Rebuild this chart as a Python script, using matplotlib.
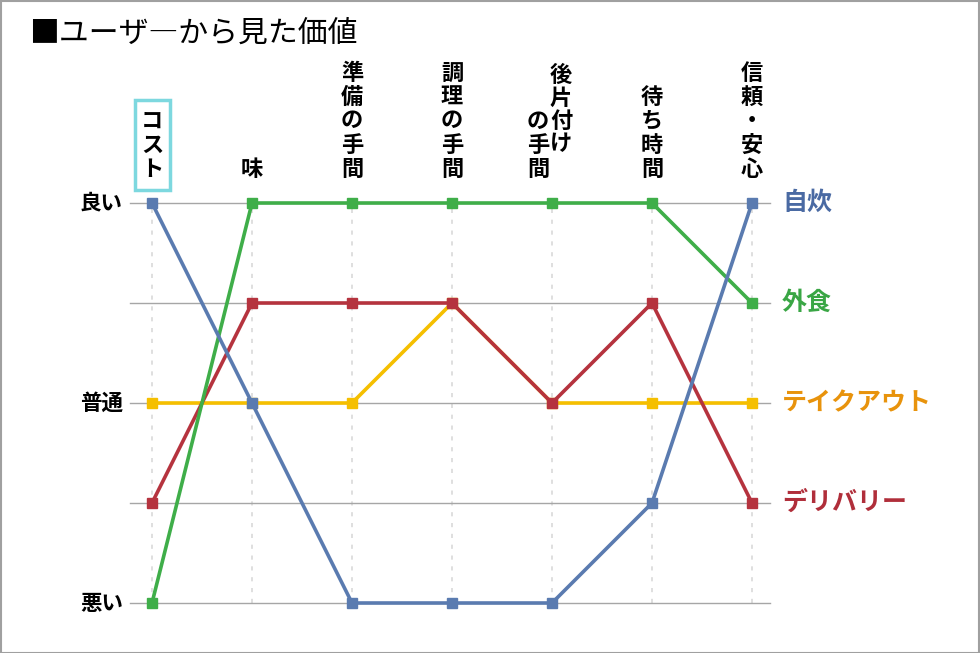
import matplotlib
matplotlib.use("Agg")
import matplotlib.pyplot as plt
from matplotlib.patches import Rectangle

plt.rcParams['font.family'] = ['Noto Sans CJK JP', 'DejaVu Sans']

title = "■ユーザ―から見た価値"
categories = ["コスト", "味", "準備の手間", "調理の手間", "後片付けの手間", "待ち時間", "信頼・安心"]
level_labels = ["悪い", "", "普通", "", "良い"]
levels = [1, 2, 3, 4, 5]

series_names = ["自炊", "外食", "テイクアウト", "デリバリー"]
jisui = [5, 3, 1, 1, 1, 2, 5]
gaishoku = [1, 5, 5, 5, 5, 5, 4]
takeout = [3, 3, 3, 4, 3, 3, 3]
delivery = [2, 4, 4, 4, 3, 4, 2]

line_colors = ["#5a7bb0", "#3fae49", "#f5bf00", "#b5333e"]
text_colors = ["#4a6aa3", "#3aa645", "#e8930c", "#b02e3a"]
zorders = [6, 5, 3, 4]

W, H = 980, 653
fig = plt.figure(figsize=(W / 100, H / 100), dpi=100)
fig.patch.set_facecolor("white")
fig.add_artist(Rectangle((0.5 / W, 0.5 / H), 1 - 1.5 / W, 1 - 1.5 / H, transform=fig.transFigure,
                         fill=False, edgecolor="#a0a0a0", linewidth=1.5))

left_px, right_px, top_px, bot_px = 130, 770, 203, 603
ax = fig.add_axes([left_px / W, 1 - bot_px / H, (right_px - left_px) / W, (bot_px - top_px) / H])
n = len(categories)
xs = list(range(n))
ax.set_xlim(-0.22, n - 1 + 0.18)
ax.set_ylim(1, 5)
for s in ax.spines.values():
    s.set_visible(False)
ax.set_xticks([])
ax.set_yticks([])

# grid
for lv in levels:
    ax.axhline(lv, color="#a6a6a6", linewidth=1.0, zorder=1, clip_on=False)
for x in xs:
    ax.plot([x, x], [1, 5], color="#d9d9d9", linewidth=1.2, linestyle=(0, (2.5, 4)), zorder=0.5, clip_on=False)

data = [jisui, gaishoku, takeout, delivery]
for vals, c, z in zip(data, line_colors, zorders):
    ax.plot(xs, vals, color=c, linewidth=2.6, marker="s", markersize=7, zorder=z, clip_on=False)

# y-level labels
for lv, lab in zip(levels, level_labels):
    if lab:
        ax.annotate(lab, xy=(0, lv), xycoords=("axes fraction", "data"), xytext=(-7, 0),
                    textcoords="offset pixels", ha="right", va="center", fontsize=15.5,
                    fontweight="bold", color="black")

# series labels at right
for name, vals, c in zip(series_names, data, text_colors):
    ax.annotate(name, xy=(1, vals[-1]), xycoords=("axes fraction", "data"), xytext=(12, 0),
                textcoords="offset pixels", ha="left", va="center", fontsize=18,
                fontweight="bold", color=c)

# vertical category labels
def vcol(x, chars, bottom_px, dx=0, step=24.0):
    for i, ch in enumerate(reversed(chars)):
        ypix = bottom_px - i * step
        ax.annotate(ch, xy=(x, 1 - ypix / H), xycoords=("data", "figure fraction"), xytext=(dx, 0),
                    textcoords="offset pixels", ha="center", va="center", fontsize=16,
                    fontweight="bold", color="black", annotation_clip=False)

label_bottom = 169
for i, cat in enumerate(categories):
    if cat == "後片付けの手間":
        vcol(i, list("後片付け"), 144, dx=9, step=23)
        vcol(i, list("の手間"), label_bottom, dx=-14, step=23.5)
    else:
        vcol(i, list(cat), label_bottom)

# box around the first category
x0 = ax.transData.transform((0, 1))[0]
fig.add_artist(Rectangle(((x0 - 17) / W, 1 - 190 / H), 35 / W, 90 / H, transform=fig.transFigure,
                         fill=False, edgecolor="#7dd8df", linewidth=2.5))

fig.text(29 / W, 1 - 33 / H, title, ha="left", va="center", fontsize=21.5, color="black")

fig.savefig("out.png", dpi=100, facecolor="white")
